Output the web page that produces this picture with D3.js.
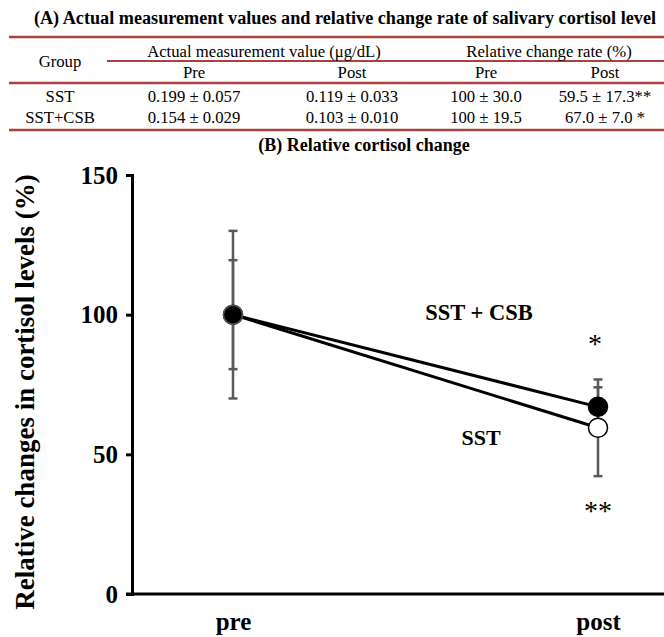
<!DOCTYPE html>
<html>
<head>
<meta charset="utf-8">
<script src="https://cdn.jsdelivr.net/npm/d3@7"></script>
<style>
  body { margin: 0; background: #fff; }
</style>
</head>
<body>
<div id="viz"></div>
<script>
// table (A)
const tableTitle = "(A) Actual measurement values and relative change rate of salivary cortisol level";
const headerGroups = ["Actual measurement value (μg/dL)", "Relative change rate (%)"];
const headerSub = ["Pre", "Post", "Pre", "Post"];
const tableRows = [
  ["SST", "0.199 ± 0.057", "0.119 ± 0.033", "100 ± 30.0", "59.5 ± 17.3**"],
  ["SST+CSB", "0.154 ± 0.029", "0.103 ± 0.010", "100 ± 19.5", "67.0 ± 7.0 *"]
];

// chart (B)
const chartTitle = "(B) Relative cortisol change";
const phases = ["pre", "post"];
const sstMean = [100, 59.5];
const sstSD = [30.0, 17.3];
const csbMean = [100, 67.0];
const csbSD = [19.5, 7.0];
const yTicks = [0, 50, 100, 150];

const W = 664, H = 637;
const red = "#a8423f";
const serif = "'Liberation Serif', 'Times New Roman', serif";
const cellSize = "16.7px";

const svg = d3.select("#viz").append("svg")
  .attr("width", W)
  .attr("height", H)
  .attr("font-family", serif);

// ---- table ----
svg.append("text")
  .attr("x", 345).attr("y", 24)
  .attr("text-anchor", "middle")
  .style("font-size", "18.2px")
  .style("font-weight", "bold")
  .text(tableTitle);

const rule = (x1, y, w) => svg.append("line")
  .attr("x1", x1).attr("x2", W).attr("y1", y).attr("y2", y)
  .attr("stroke", red).attr("stroke-width", w);

rule(9, 37, 2.5);
rule(107, 61, 2);
rule(9, 83, 2.5);
rule(9, 130, 2.5);

const colX = [60, 194, 352, 486, 605];

svg.append("text")
  .attr("x", colX[0]).attr("y", 67)
  .attr("text-anchor", "middle")
  .style("font-size", cellSize)
  .text("Group");

svg.selectAll("text.hgroup")
  .data(headerGroups)
  .enter().append("text")
  .attr("class", "hgroup")
  .attr("x", (d, i) => i === 0 ? 264 : 549)
  .attr("y", 57)
  .attr("text-anchor", "middle")
  .style("font-size", cellSize)
  .text(d => d);

svg.selectAll("text.hsub")
  .data(headerSub)
  .enter().append("text")
  .attr("class", "hsub")
  .attr("x", (d, i) => colX[i + 1])
  .attr("y", 78)
  .attr("text-anchor", "middle")
  .style("font-size", cellSize)
  .text(d => d);

tableRows.forEach((row, r) => {
  svg.selectAll(null)
    .data(row)
    .enter().append("text")
    .attr("x", (d, i) => colX[i])
    .attr("y", 102 + r * 21)
    .attr("text-anchor", "middle")
    .style("font-size", cellSize)
    .text(d => d);
});

svg.append("text")
  .attr("x", 364).attr("y", 151)
  .attr("text-anchor", "middle")
  .style("font-size", "18px")
  .style("font-weight", "bold")
  .text(chartTitle);

// ---- chart ----
const x0 = 132, yBase = 594;
const x = d3.scalePoint().domain(phases).range([233, 598]);
const y = d3.scaleLinear().domain([0, 150]).range([yBase, 175]);

const yAxis = svg.append("g")
  .attr("transform", `translate(${x0},0)`)
  .call(d3.axisLeft(y).tickValues(yTicks).tickSize(6).tickPadding(8));
yAxis.attr("font-family", serif);
yAxis.select(".domain").attr("stroke-width", 3);
yAxis.selectAll(".tick line").attr("stroke-width", 3);
yAxis.selectAll(".tick text")
  .style("font-size", "25px")
  .style("font-weight", "bold")
  .attr("fill", "#000");

// x axis line over full width
svg.append("line")
  .attr("x1", x0 - 6).attr("x2", W)
  .attr("y1", yBase).attr("y2", yBase)
  .attr("stroke", "#000").attr("stroke-width", 3);

const xAxis = svg.append("g")
  .attr("transform", `translate(0,${yBase})`)
  .call(d3.axisBottom(x).tickSize(0).tickPadding(18));
xAxis.attr("font-family", serif);
xAxis.select(".domain").remove();
xAxis.selectAll(".tick text")
  .style("font-size", "25px")
  .style("font-weight", "bold")
  .attr("fill", "#000");

svg.append("text")
  .attr("transform", `translate(34,392) rotate(-90)`)
  .attr("text-anchor", "middle")
  .style("font-size", "27px")
  .style("font-weight", "bold")
  .text("Relative changes in cortisol levels (%)");

const series = [
  { name: "SST", mean: sstMean, sd: sstSD, fill: "#fff" },
  { name: "SST + CSB", mean: csbMean, sd: csbSD, fill: "#000" }
];

// error bars
const errColor = "#5a5a5a";
series.forEach(s => {
  phases.forEach((p, i) => {
    const g = svg.append("g").attr("stroke", errColor).attr("stroke-width", 2.5);
    const lo = s.mean[i] - s.sd[i], hi = s.mean[i] + s.sd[i];
    g.append("line").attr("x1", x(p)).attr("x2", x(p)).attr("y1", y(lo)).attr("y2", y(hi));
    [lo, hi].forEach(v => {
      g.append("line")
        .attr("x1", x(p) - 4.5).attr("x2", x(p) + 4.5)
        .attr("y1", y(v)).attr("y2", y(v));
    });
  });
});

const line = d3.line().x((d, i) => x(phases[i])).y(d => y(d));

series.forEach(s => {
  svg.append("path")
    .datum(s.mean)
    .attr("fill", "none")
    .attr("stroke", "#000")
    .attr("stroke-width", 3)
    .attr("d", line);
});

series.forEach(s => {
  svg.selectAll(null)
    .data(s.mean)
    .enter().append("circle")
    .attr("cx", (d, i) => x(phases[i]))
    .attr("cy", d => y(d))
    .attr("r", 9.5)
    .attr("fill", s.fill)
    .attr("stroke", (d, i) => i === 0 && s.fill === "#000" ? "#555" : "#000")
    .attr("stroke-width", 1.5);
});

// labels
const annot = [
  { text: "SST + CSB", x: 479, y: 320, size: 22.5 },
  { text: "SST", x: 481, y: 445, size: 22 },
  { text: "*", x: 595, y: 353, size: 28 },
  { text: "**", x: 598, y: 520, size: 28 }
];
svg.selectAll("text.annot")
  .data(annot)
  .enter().append("text")
  .attr("class", "annot")
  .attr("x", d => d.x).attr("y", d => d.y)
  .attr("text-anchor", "middle")
  .style("font-size", d => d.size + "px")
  .style("font-weight", d => d.text.startsWith("*") ? "normal" : "bold")
  .text(d => d.text);
</script>
</body>
</html>
